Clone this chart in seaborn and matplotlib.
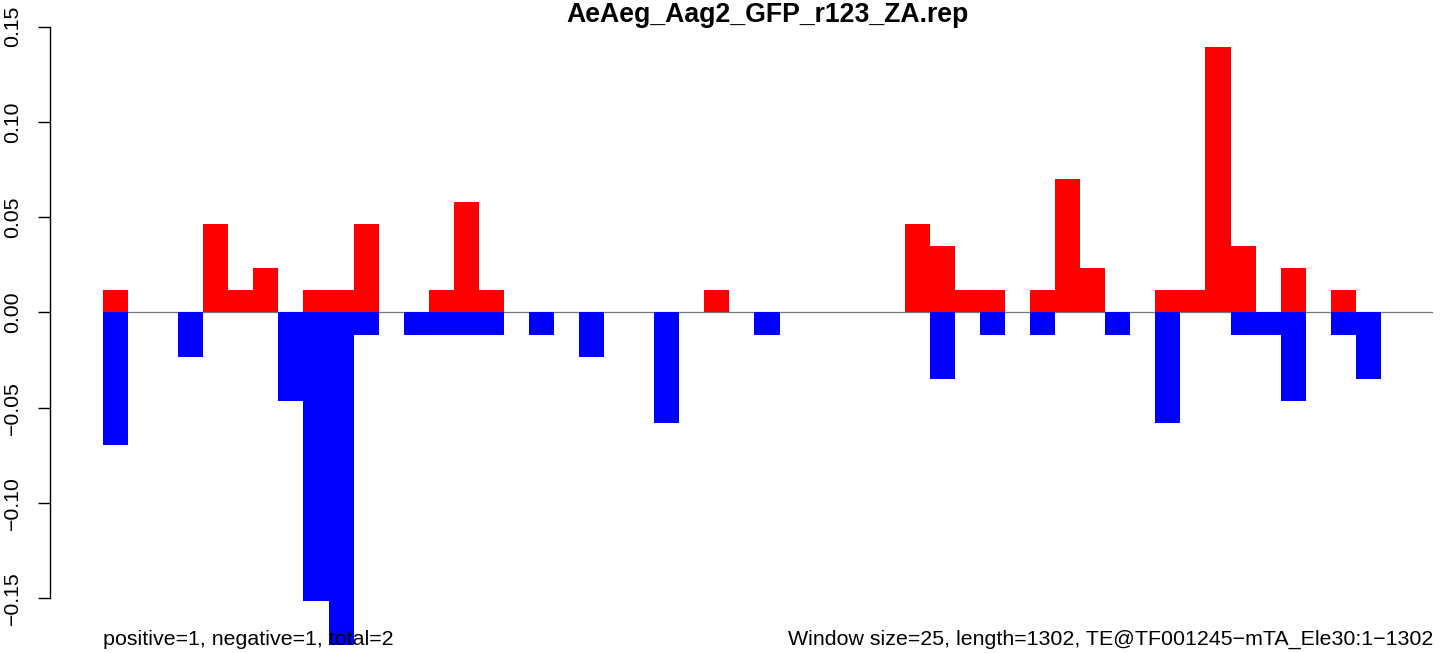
import seaborn as sns
import matplotlib.pyplot as plt
from matplotlib import ticker

# Data (fraction per 25-bp window)
window = 25
seq_length = 1302
pos_vals = [0.0116, 0, 0, 0, 0.0465, 0.0116, 0.0233, 0, 0.0116, 0.0116,
            0.0465, 0, 0, 0.0116, 0.0581, 0.0116, 0, 0, 0, 0,
            0, 0, 0, 0, 0.0116, 0, 0, 0, 0, 0,
            0, 0, 0.0465, 0.0349, 0.0116, 0.0116, 0, 0.0116, 0.0698, 0.0233,
            0, 0, 0.0116, 0.0116, 0.1395, 0.0349, 0, 0.0233, 0, 0.0116,
            0]
neg_vals = [-0.0698, 0, 0, -0.0233, 0, 0, 0, -0.0465, -0.1512, -0.1744,
            -0.0116, 0, -0.0116, -0.0116, -0.0116, -0.0116, 0, -0.0116, 0, -0.0233,
            0, 0, -0.0581, 0, 0, 0, -0.0116, 0, 0, 0,
            0, 0, 0, -0.0349, 0, -0.0116, 0, -0.0116, 0, 0,
            -0.0116, 0, -0.0581, 0, 0, -0.0116, -0.0116, -0.0465, 0, -0.0116,
            -0.0349]
yticks = [-0.15, -0.10, -0.05, 0.00, 0.05, 0.10, 0.15]

title = "AeAeg_Aag2_GFP_r123_ZA.rep"
left_note = "positive=1, negative=1, total=2"
right_note = "Window size=25, length=1302, TE@TF001245\u2212mTA_Ele30:1\u22121302"

centers = [i * window + window / 2 for i in range(len(pos_vals))]

sns.set_theme(style="white")
plt.rcParams['font.family'] = ['Liberation Sans', 'DejaVu Sans']

W, H = 1444, 653
fig = plt.figure(figsize=(W / 100, H / 100), dpi=100)
ax = fig.add_axes([103 / W, 0, 1330 / W, 1])

ax.axhline(0, color="#777777", lw=0.9, zorder=0)
sns.barplot(x=centers, y=pos_vals, native_scale=True, width=1, color="#ff0000",
            saturation=1, linewidth=0, errorbar=None, ax=ax, zorder=2)
sns.barplot(x=centers, y=neg_vals, native_scale=True, width=1, color="#0000ff",
            saturation=1, linewidth=0, errorbar=None, ax=ax, zorder=2)

ax.set_xlim(0, seq_length + window)
ax.set_ylim(-0.1787, 0.1640)
ax.set_xticks([])
ax.set_xlabel("")
ax.set_ylabel("")

for s in ["top", "right", "bottom"]:
    ax.spines[s].set_visible(False)
ax.spines["left"].set_position(("outward", 38))
ax.spines["left"].set_bounds(-0.15, 0.15)
ax.spines["left"].set_color("black")
ax.spines["left"].set_linewidth(1.0)

ax.set_yticks(yticks)
ax.yaxis.set_major_formatter(ticker.FuncFormatter(lambda v, _: f"{v:.2f}".replace("-", "\u2212")))
ax.tick_params(axis="y", left=True, length=9, width=1.0, color="black",
               pad=11, labelsize=15.3, labelcolor="black")
for lab in ax.get_yticklabels():
    lab.set_rotation(90)
    lab.set_va("center")

fig.text(767.5 / W, 1 - 21.5 / H, title, ha="center", va="baseline",
         fontsize=19.2, fontweight="bold", color="black")
ax.text(0, -0.1745, left_note, transform=ax.get_yaxis_transform(), ha="left",
        va="baseline", fontsize=15.4, color="black", zorder=5)
ax.text(1, -0.1745, right_note, transform=ax.get_yaxis_transform(), ha="right",
        va="baseline", fontsize=15.4, color="black", zorder=5)

fig.savefig("out.png", dpi=100)
